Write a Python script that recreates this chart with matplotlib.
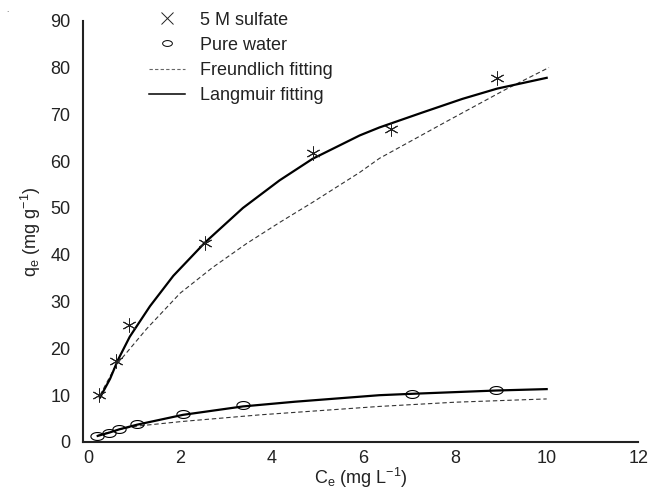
import matplotlib
matplotlib.use("Agg")
import matplotlib.pyplot as plt
import numpy as np
from matplotlib.path import Path

plt.rcParams['font.family'] = ['Liberation Sans', 'DejaVu Sans']

# measured data
sulfate_x = [0.23, 0.6, 0.88, 2.54, 4.9, 6.6, 8.92]
sulfate_y = [10.0, 17.4, 25.0, 42.6, 61.7, 66.8, 77.7]
water_x = [0.18, 0.45, 0.67, 1.06, 2.06, 3.37, 7.07, 8.9]
water_y = [1.3, 2.0, 2.8, 3.9, 6.0, 7.9, 10.3, 11.1]

# fitted curves
sulf_lang_x = [0.25, 0.47, 0.64, 0.9, 1.34, 1.85, 2.54, 3.37, 4.17, 4.89, 5.92, 6.35, 7.29, 8.16, 8.92, 10.0]
sulf_lang_y = [9.5, 13.5, 17.5, 22.5, 29.0, 35.5, 42.6, 50.0, 55.9, 60.5, 65.5, 67.2, 70.4, 73.3, 75.5, 77.8]
sulf_freu_x = [0.25, 0.6, 1.27, 2.0, 2.71, 3.45, 4.17, 4.89, 5.92, 6.35, 7.8, 9.1, 10.05]
sulf_freu_y = [10.0, 16.4, 24.2, 31.8, 37.3, 42.4, 46.9, 51.2, 57.6, 60.6, 68.4, 75.3, 80.0]
water_lang_x = [0.2, 0.45, 0.67, 1.06, 2.06, 3.37, 4.5, 6.35, 7.07, 8.9, 10.0]
water_lang_y = [1.3, 2.0, 2.7, 3.7, 5.8, 7.6, 8.6, 10.0, 10.3, 11.0, 11.3]
water_freu_x = [0.2, 0.45, 0.67, 1.06, 2.06, 3.74, 6.35, 8.0, 10.0]
water_freu_y = [1.4, 2.1, 2.7, 3.4, 4.4, 5.8, 7.6, 8.5, 9.2]

xticks = [0, 2, 4, 6, 8, 10, 12]
yticks = [0, 10, 20, 30, 40, 50, 60, 70, 80, 90]

# ellipse marker path
t = np.linspace(0, 2 * np.pi, 60)
ellipse = Path(np.column_stack([np.cos(t), 0.6 * np.sin(t)]), closed=True)
asterisk = (6, 2, 0)

fig = plt.figure(figsize=(6.54, 4.91), dpi=100)
ax = fig.add_axes([0.127, 0.0998, 0.849, 0.858])

ax.plot(sulf_freu_x, sulf_freu_y, color='#333333', lw=0.8, ls=(0, (4, 2.5)))
ax.plot(water_freu_x, water_freu_y, color='#333333', lw=0.8, ls=(0, (4, 2.5)))
ax.plot(sulf_lang_x, sulf_lang_y, color='black', lw=1.6)
ax.plot(water_lang_x, water_lang_y, color='black', lw=1.6)
ax.plot(sulfate_x, sulfate_y, ls='none', marker=asterisk, ms=10, mec='#222222', mew=0.7)
ax.plot(water_x, water_y, ls='none', marker=ellipse, ms=9.5, mfc='none', mec='black', mew=0.8)

# legend handles
h1, = ax.plot([], [], ls='none', marker='x', ms=8, mec='#222222', mew=0.7, label='5 M sulfate')
h2, = ax.plot([], [], ls='none', marker=ellipse, ms=7, mfc='none', mec='black', mew=0.7, label='Pure water')
h3, = ax.plot([], [], color='#666666', lw=0.8, ls=(0, (3, 2)), label='Freundlich fitting')
h4, = ax.plot([], [], color='black', lw=1.1, label='Langmuir fitting')
ax.legend(handles=[h1, h2, h3, h4], loc='upper left', bbox_to_anchor=(0.09, 1.06),
          frameon=False, fontsize=13, handlelength=2.0, handletextpad=0.8,
          labelspacing=0.45, labelcolor='#222222')

ax.set_xlim(-0.12, 12)
ax.set_ylim(0, 90)
ax.set_xticks(xticks)
ax.set_yticks(yticks)
ax.tick_params(length=0, labelsize=13, colors='#222222', pad=6)
ax.tick_params(axis='y', pad=9)
for s in ['top', 'right']:
    ax.spines[s].set_visible(False)
for s in ['left', 'bottom']:
    ax.spines[s].set_linewidth(1.5)
    ax.spines[s].set_color('#222222')

ax.set_xlabel(r'C$_\mathregular{e}$ (mg L$^\mathregular{-1}$)', fontsize=13, color='#222222', labelpad=-1)
ax.set_ylabel(r'q$_\mathregular{e}$ (mg g$^\mathregular{-1}$)', fontsize=13, color='#222222', labelpad=5)

fig.text(0.01, 0.975, '.', fontsize=6, color='#444444')

fig.savefig('out.png', dpi=100)
